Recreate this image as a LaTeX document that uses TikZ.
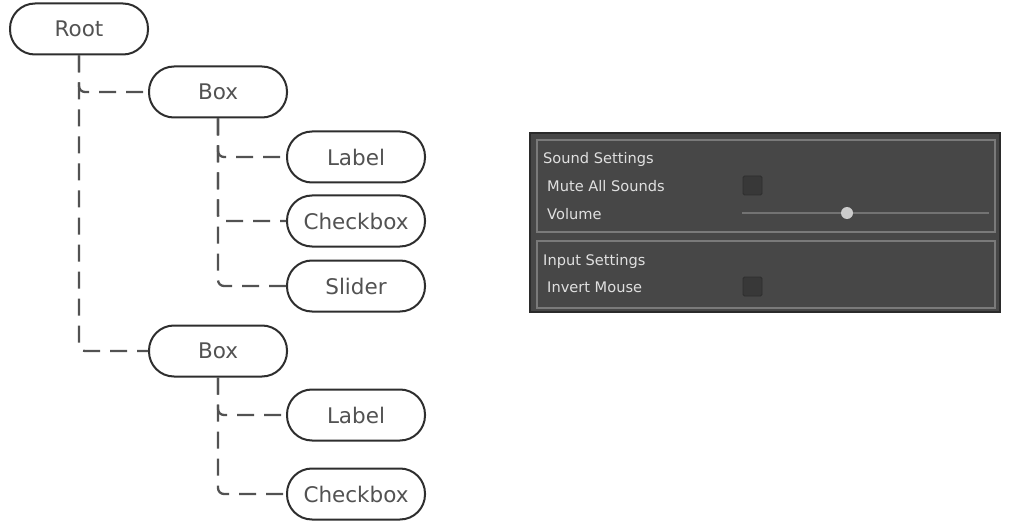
\documentclass[tikz,border=0pt]{standalone}
\usepackage{fontspec}
\setmainfont{DejaVu Sans}
\begin{document}
\begin{tikzpicture}[x=1pt,y=-1pt,
  treenode/.style={draw=black!82, line width=2pt, rectangle, rounded corners=25pt,
    minimum width=138pt, minimum height=51pt, inner sep=0pt, text=black!68,
    font=\fontsize{21.5}{25}\selectfont},
  conn/.style={draw=black!68, line width=2.3pt, dash pattern=on 17pt off 10pt, rounded corners=6pt},
  paneltext/.style={anchor=base west, inner sep=0pt, text=black!12, font=\fontsize{14.6}{17}\selectfont},
  group/.style={draw=black!52, line width=1.4pt},
  chk/.style={fill=black!78, draw=black!82, line width=0.8pt, rounded corners=1.5pt}
]
\useasboundingbox[fill=white] (0,0) rectangle (1010,524);
% tree
\node[treenode] (root) at (79,29) {Root};
\node[treenode] (box1) at (218,92) {Box};
\node[treenode] (lab1) at (356,157) {Label};
\node[treenode] (chk1) at (356,221) {Checkbox};
\node[treenode] (sld) at (356,286) {Slider};
\node[treenode] (box2) at (218,351) {Box};
\node[treenode] (lab2) at (356,415) {Label};
\node[treenode] (chk2) at (356,494) {Checkbox};
\draw[conn] (root.south) |- (box1.west);
\draw[conn] (root.south) |- (box2.west);
\draw[conn] (box1.south) |- (lab1.west);
\draw[conn] (box1.south) |- (chk1.west);
\draw[conn] (box1.south) |- (sld.west);
\draw[conn] (box2.south) |- (lab2.west);
\draw[conn] (box2.south) |- (chk2.west);
% panel
\fill[black!72] (529,132) rectangle (1001,313);
\draw[black!83, line width=2pt] (530,133) rectangle (1000,312);
\draw[group] (537,140) rectangle (995,232);
\draw[group] (537,241) rectangle (995,308);
\node[paneltext] (t1) at (543,164) {Sound Settings};
\node[paneltext] (t2) at (547,192) {Mute All Sounds};
\node[paneltext] (t3) at (547,219) {Volume};
\node[paneltext] (t4) at (543,265) {Input Settings};
\node[paneltext] (t5) at (547,292) {Invert Mouse};
\draw[chk] (743,176) rectangle (762,195);
\draw[chk] (743,277) rectangle (762,296);
\draw[black!55, line width=1.6pt] (742,213) -- (989,213);
\fill[black!20] (847,213) circle (6pt);
\end{tikzpicture}
\end{document}
